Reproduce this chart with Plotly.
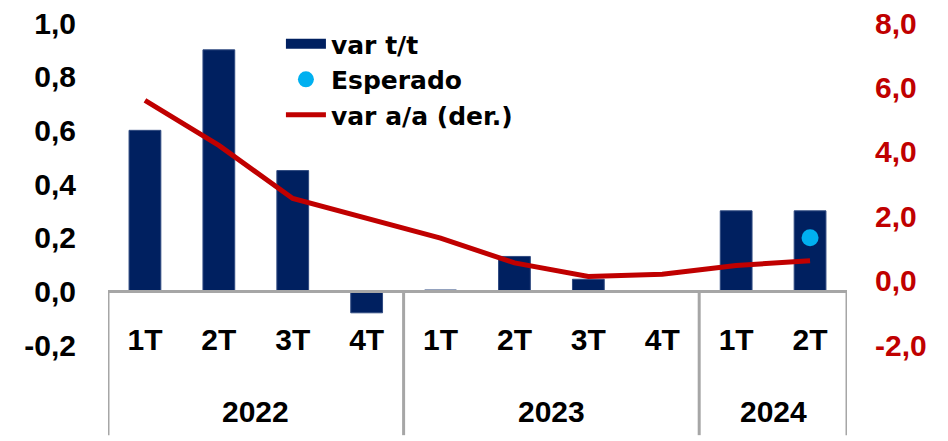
import plotly.graph_objects as go

years = ["2022"] * 4 + ["2023"] * 4 + ["2024"] * 2
quarters = ["1T", "2T", "3T", "4T", "1T", "2T", "3T", "4T", "1T", "2T"]
var_tt = [0.60, 0.90, 0.45, -0.08, 0.005, 0.13, 0.045, 0.003, 0.30, 0.30]
var_aa = [5.6, 4.2, 2.55, 1.95, 1.32, 0.55, 0.13, 0.2, 0.47, 0.62]
esperado_year = "2024"
esperado_q = "2T"
esperado_val = [0.20]

left_ticks = [-0.2, 0.0, 0.2, 0.4, 0.6, 0.8, 1.0]
left_ticktext = ["-0,2", "0,0", "0,2", "0,4", "0,6", "0,8", "1,0"]
right_ticks = [-2, 0, 2, 4, 6, 8]
right_ticktext = ["-2,0", "0,0", "2,0", "4,0", "6,0", "8,0"]

FONT = "Liberation Sans"
LEGEND_FONT = "DejaVu Sans"
NAVY = "#002060"
RED = "#C00000"
CYAN = "#00B0F0"
GREY = "#A6A6A6"

idx = list(range(len(quarters)))
esp_idx = [i for i in idx if years[i] == esperado_year and quarters[i] == esperado_q]

# group boundaries and centres derived from the year list
groups = []
for i, y in enumerate(years):
    if not groups or groups[-1][0] != y:
        groups.append([y, i, i])
    else:
        groups[-1][2] = i

fig = go.Figure()
fig.add_trace(go.Bar(
    x=idx, y=var_tt, name="var t/t", showlegend=False,
    marker=dict(color=NAVY, line=dict(color="#2F4A80", width=1)),
))
# legend entry for the bars (wide block like the reference)
fig.add_trace(go.Scatter(
    x=[None], y=[None], name="var t/t", mode="lines",
    line=dict(color=NAVY, width=15),
))
fig.add_trace(go.Scatter(
    x=esp_idx, y=esperado_val, name="Esperado",
    mode="markers", marker=dict(color=CYAN, size=17),
))
fig.add_trace(go.Scatter(
    x=idx, y=var_aa, name="var a/a (der.)",
    mode="lines", line=dict(color=RED, width=5), yaxis="y2",
))

AX0 = 0.2 / 1.2  # paper position of the zero line of the left axis
shapes = []
annotations = []
bounds = sorted(set([g[1] - 0.5 for g in groups] + [g[2] + 0.5 for g in groups]))
for b in bounds:
    shapes.append(dict(type="line", xref="x", yref="paper", x0=b, x1=b,
                       y0=AX0, y1=-0.28, line=dict(color=GREY, width=3)))
for name, a, b in groups:
    annotations.append(dict(xref="x", yref="paper", x=(a + b) / 2, y=-0.208,
                            text=name, showarrow=False, yanchor="middle",
                            font=dict(family=FONT, size=30, color="black", weight="bold")))

fig.update_layout(
    width=948, height=441,
    margin=dict(l=100, r=109, t=15, b=104, autoexpand=False),
    paper_bgcolor="white", plot_bgcolor="white",
    bargap=0.57,
    font=dict(family=FONT, size=30, color="black"),
    showlegend=True,
    shapes=shapes,
    annotations=annotations,
    legend=dict(
        x=0.234, xanchor="left",
        y=1.006, yanchor="top",
        bgcolor="rgba(0,0,0,0)",
        font=dict(family=LEGEND_FONT, size=25, color="black", weight="bold"),
        tracegroupgap=0, itemwidth=40,
    ),
    xaxis=dict(
        range=[-0.5, len(quarters) - 0.5],
        anchor="free", position=AX0, automargin=False,
        tickvals=idx, ticktext=quarters,
        showline=True, linecolor=GREY, linewidth=3,
        ticks="", showgrid=False, zeroline=False,
        tickfont=dict(family=FONT, size=30, color="black", weight="bold"),
        ticklabelstandoff=21, ticklabeloverflow="allow",
    ),
    yaxis=dict(
        range=[-0.2, 1.0], tickvals=left_ticks, ticktext=left_ticktext,
        automargin=False,
        showgrid=False, zeroline=False, showline=False, ticks="",
        tickfont=dict(family=FONT, size=30, color="black", weight="bold"),
        ticklabelstandoff=31, ticklabeloverflow="allow",
    ),
    yaxis2=dict(
        overlaying="y", side="right", automargin=False,
        range=[-2, 8], tickvals=right_ticks, ticktext=right_ticktext,
        showgrid=False, zeroline=False, showline=False, ticks="",
        tickfont=dict(family=FONT, size=30, color=RED, weight="bold"),
        ticklabelstandoff=27, ticklabeloverflow="allow",
    ),
)

fig.write_html("out.html")
